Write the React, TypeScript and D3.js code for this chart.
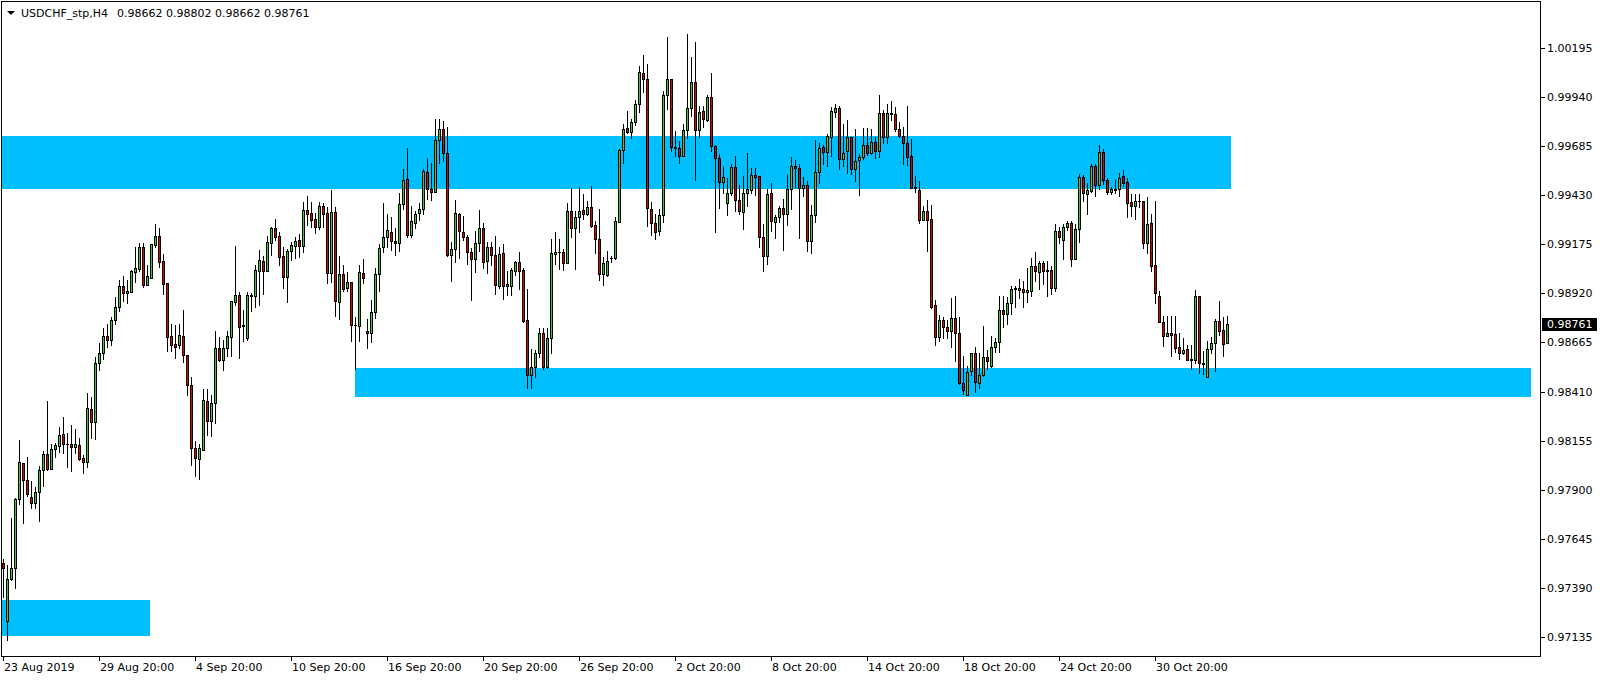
import React from "react";
import * as d3 from "d3";

// [open, high, low, close] per H4 bar, first bar = 23 Aug 2019 20:00
const bars: [number, number, number, number][] = [
  [0.97518, 0.97539, 0.97345, 0.97492], [0.97216, 0.9751, 0.97117, 0.97437], [0.97435, 0.97755, 0.97432, 0.97492],
  [0.97492, 0.97859, 0.97392, 0.97852], [0.97851, 0.98158, 0.97825, 0.98044], [0.98037, 0.98041, 0.97729, 0.97949],
  [0.97949, 0.9807, 0.97869, 0.9788], [0.97861, 0.97946, 0.97807, 0.9783], [0.9783, 0.97913, 0.97807, 0.97887],
  [0.97887, 0.98023, 0.9774, 0.98001], [0.98001, 0.98101, 0.97921, 0.98084], [0.98084, 0.98361, 0.98003, 0.9801],
  [0.9801, 0.98139, 0.98006, 0.98113], [0.98113, 0.98145, 0.98068, 0.98131], [0.98127, 0.98224, 0.98098, 0.98183],
  [0.98188, 0.98278, 0.98089, 0.98136], [0.98138, 0.98195, 0.9802, 0.98136], [0.98136, 0.98236, 0.97999, 0.9812],
  [0.9812, 0.98214, 0.98089, 0.98136], [0.98131, 0.9817, 0.98055, 0.98061], [0.98063, 0.98079, 0.97989, 0.98046],
  [0.98042, 0.98401, 0.9802, 0.98323], [0.98318, 0.98383, 0.98167, 0.9825], [0.98252, 0.9859, 0.98164, 0.9856],
  [0.9856, 0.9866, 0.9852, 0.9861], [0.9861, 0.9874, 0.9858, 0.987], [0.987, 0.9876, 0.9864, 0.9868],
  [0.9868, 0.988, 0.9865, 0.9878], [0.9878, 0.989, 0.9876, 0.9885], [0.9885, 0.9899, 0.9883, 0.9896],
  [0.9896, 0.9901, 0.9888, 0.9892], [0.98921, 0.9899, 0.98872, 0.98933], [0.98929, 0.99042, 0.98926, 0.99037],
  [0.99033, 0.99161, 0.98981, 0.9905], [0.99049, 0.99182, 0.99038, 0.99159], [0.99159, 0.99182, 0.98955, 0.98966],
  [0.98966, 0.99068, 0.98964, 0.99009], [0.99002, 0.99177, 0.99, 0.99175], [0.99173, 0.99281, 0.99163, 0.99217],
  [0.99217, 0.9926, 0.99059, 0.99085], [0.99087, 0.99125, 0.98919, 0.98971], [0.98973, 0.98974, 0.98621, 0.98696],
  [0.98699, 0.9876, 0.98623, 0.98651], [0.98658, 0.98756, 0.98583, 0.98644], [0.98654, 0.9876, 0.98639, 0.98703],
  [0.98699, 0.98834, 0.98566, 0.98599], [0.98601, 0.98602, 0.9839, 0.98442], [0.98443, 0.98486, 0.9803, 0.98116],
  [0.98116, 0.98154, 0.97969, 0.98063], [0.98059, 0.98139, 0.97955, 0.98116], [0.98108, 0.98422, 0.98104, 0.98367],
  [0.98362, 0.98422, 0.98185, 0.98255], [0.98255, 0.98393, 0.98177, 0.98353], [0.98353, 0.98725, 0.98246, 0.98635],
  [0.98635, 0.98694, 0.98571, 0.98576], [0.98576, 0.98679, 0.98523, 0.98635], [0.98635, 0.98725, 0.98597, 0.98699],
  [0.98696, 0.98883, 0.98597, 0.98881], [0.98877, 0.99166, 0.9886, 0.9891], [0.9891, 0.98928, 0.98587, 0.98748],
  [0.98755, 0.98834, 0.98675, 0.98751], [0.98687, 0.98928, 0.9868, 0.9891], [0.98905, 0.98921, 0.98831, 0.98912],
  [0.98904, 0.99068, 0.98852, 0.99042], [0.99039, 0.99146, 0.9886, 0.99094], [0.99089, 0.99115, 0.98917, 0.99039],
  [0.99039, 0.99218, 0.99037, 0.99187], [0.99184, 0.99267, 0.9912, 0.9926], [0.9926, 0.99305, 0.99198, 0.99215],
  [0.99217, 0.99237, 0.99068, 0.99111], [0.99113, 0.99163, 0.9895, 0.99007], [0.99007, 0.99151, 0.98878, 0.99141],
  [0.99142, 0.99189, 0.99094, 0.99172], [0.99168, 0.99215, 0.99106, 0.99193], [0.99198, 0.99229, 0.99108, 0.99168],
  [0.99168, 0.99395, 0.99135, 0.99352], [0.99352, 0.99426, 0.99276, 0.99334], [0.99338, 0.99395, 0.99267, 0.99303],
  [0.99307, 0.99336, 0.99236, 0.99267], [0.99267, 0.99395, 0.99255, 0.99374], [0.99374, 0.99388, 0.99267, 0.99334],
  [0.9934, 0.99371, 0.98973, 0.99028], [0.99028, 0.99457, 0.98981, 0.99343], [0.99343, 0.99369, 0.98805, 0.98883],
  [0.98878, 0.99115, 0.98788, 0.99021], [0.99021, 0.99068, 0.98935, 0.98943], [0.98947, 0.99032, 0.9893, 0.9898],
  [0.9898, 0.98981, 0.98675, 0.98757], [0.98757, 0.988, 0.98528, 0.98755], [0.98753, 0.99068, 0.98675, 0.99032],
  [0.99026, 0.99099, 0.98973, 0.99002], [0.98725, 0.98788, 0.98639, 0.98712], [0.98713, 0.98886, 0.9867, 0.98822],
  [0.98826, 0.99051, 0.98792, 0.9902], [0.9902, 0.99178, 0.9893, 0.99155], [0.99159, 0.9939, 0.99133, 0.99212],
  [0.99212, 0.99332, 0.99159, 0.99249], [0.99238, 0.99316, 0.99143, 0.99192], [0.99193, 0.99259, 0.99121, 0.99181],
  [0.99181, 0.99441, 0.99138, 0.99383], [0.99383, 0.99567, 0.99358, 0.9951], [0.99513, 0.99674, 0.99212, 0.99223],
  [0.99223, 0.99373, 0.99212, 0.99295], [0.99285, 0.99347, 0.99262, 0.99332], [0.99337, 0.99389, 0.993, 0.99359],
  [0.99358, 0.99567, 0.99332, 0.99557], [0.9955, 0.99622, 0.99409, 0.99461], [0.99463, 0.99596, 0.99406, 0.99449],
  [0.99449, 0.99826, 0.99447, 0.99716], [0.99716, 0.99826, 0.99596, 0.99773], [0.99773, 0.99814, 0.99608, 0.99648],
  [0.99648, 0.99785, 0.99115, 0.99119], [0.99119, 0.99186, 0.98987, 0.9915], [0.9915, 0.99406, 0.99081, 0.99337],
  [0.99335, 0.99339, 0.99102, 0.99243], [0.99238, 0.99323, 0.99198, 0.99212], [0.99214, 0.99224, 0.99072, 0.99134],
  [0.99134, 0.99155, 0.98884, 0.99098], [0.99098, 0.99242, 0.99029, 0.99181], [0.99181, 0.99354, 0.99141, 0.99259],
  [0.99259, 0.99285, 0.9905, 0.99082], [0.99088, 0.99186, 0.99025, 0.9916], [0.9916, 0.99186, 0.99067, 0.99119],
  [0.99119, 0.99219, 0.98916, 0.98963], [0.98961, 0.99163, 0.98947, 0.99127], [0.99129, 0.99177, 0.9889, 0.98956],
  [0.98956, 0.99037, 0.98912, 0.98968], [0.98961, 0.99051, 0.98912, 0.99042], [0.99039, 0.99089, 0.99016, 0.99082],
  [0.99082, 0.99137, 0.98943, 0.99039], [0.99042, 0.99051, 0.98774, 0.98777], [0.98781, 0.98943, 0.98428, 0.98494],
  [0.98494, 0.9863, 0.98428, 0.98537], [0.9854, 0.98627, 0.98485, 0.98613], [0.98613, 0.98739, 0.98592, 0.98713],
  [0.98713, 0.98739, 0.98528, 0.98537], [0.98537, 0.98739, 0.98532, 0.98687], [0.98687, 0.99203, 0.98613, 0.99129],
  [0.99127, 0.99241, 0.99073, 0.99134], [0.99134, 0.99203, 0.99047, 0.99134], [0.99134, 0.99149, 0.99042, 0.9908],
  [0.9908, 0.99392, 0.9908, 0.99348], [0.99348, 0.99466, 0.99215, 0.99262], [0.99262, 0.99348, 0.99049, 0.99315],
  [0.99315, 0.99475, 0.99241, 0.99348], [0.99354, 0.99437, 0.99305, 0.99331], [0.99331, 0.994, 0.99328, 0.99369],
  [0.99369, 0.99478, 0.99267, 0.99272], [0.99276, 0.99296, 0.99132, 0.99201], [0.99201, 0.99359, 0.9899, 0.9902],
  [0.9902, 0.99111, 0.98964, 0.99077], [0.99014, 0.99141, 0.99011, 0.99089], [0.99103, 0.99116, 0.99085, 0.99104],
  [0.99103, 0.99315, 0.99099, 0.99296], [0.99293, 0.9967, 0.9929, 0.99663], [0.99663, 0.99801, 0.996, 0.99773],
  [0.99779, 0.99869, 0.99756, 0.99761], [0.99761, 0.99825, 0.9973, 0.9981], [0.9981, 0.99926, 0.99796, 0.99905],
  [0.99903, 1.00102, 0.99865, 1.00069], [1.00064, 1.00159, 0.99969, 1.00033], [1.00033, 1.00111, 0.99268, 0.99364],
  [0.99358, 0.99395, 0.99222, 0.99284], [0.99286, 0.99334, 0.99203, 0.99239], [0.99244, 0.9936, 0.99225, 0.99327],
  [0.99327, 0.99974, 0.99289, 0.99952], [0.9995, 1.00251, 0.99879, 1.00033], [1.00033, 1.00033, 0.99658, 0.9968],
  [0.9968, 0.99765, 0.99632, 0.99678], [0.99673, 0.99713, 0.996, 0.99632], [0.99632, 0.99801, 0.99632, 0.99768],
  [0.99768, 1.00268, 0.9973, 0.99883], [0.99883, 1.00147, 0.99844, 1.00017], [1.00017, 1.00227, 0.99511, 0.99767],
  [0.99767, 0.99896, 0.99735, 0.99862], [0.99869, 0.99896, 0.99787, 0.99825], [0.99822, 0.99952, 0.99817, 0.99941],
  [0.99941, 1.00064, 0.99658, 0.99685], [0.99685, 0.99689, 0.99237, 0.99623], [0.99623, 0.99644, 0.99364, 0.99497],
  [0.99497, 0.99583, 0.99441, 0.99524], [0.9939, 0.99519, 0.99325, 0.99441], [0.99441, 0.99592, 0.99433, 0.99576],
  [0.99576, 0.99635, 0.99346, 0.99403], [0.99407, 0.99485, 0.99332, 0.99346], [0.99343, 0.99528, 0.99254, 0.99441],
  [0.99441, 0.9965, 0.99375, 0.99463], [0.99455, 0.99572, 0.99444, 0.99534], [0.99534, 0.99572, 0.99432, 0.99524],
  [0.99529, 0.99532, 0.99159, 0.99211], [0.99214, 0.99282, 0.99039, 0.99112], [0.99112, 0.99462, 0.99072, 0.99436],
  [0.99441, 0.99494, 0.99245, 0.99294], [0.9929, 0.99328, 0.99206, 0.99318], [0.99316, 0.99375, 0.99292, 0.99365],
  [0.99363, 0.99411, 0.99148, 0.9933], [0.9933, 0.99541, 0.99273, 0.99463], [0.99463, 0.99628, 0.99361, 0.99581],
  [0.99581, 0.99614, 0.99475, 0.99572], [0.99572, 0.99593, 0.99206, 0.99467], [0.99467, 0.99524, 0.99424, 0.99482],
  [0.99482, 0.99505, 0.99138, 0.9919], [0.9919, 0.99379, 0.99128, 0.99327], [0.99327, 0.99716, 0.99289, 0.9955],
  [0.9955, 0.99702, 0.99496, 0.99674], [0.9968, 0.9969, 0.99591, 0.99657], [0.99657, 0.99749, 0.99583, 0.99738],
  [0.99735, 0.99891, 0.99635, 0.99866], [0.99865, 0.99903, 0.99834, 0.99882], [0.99882, 0.99894, 0.99567, 0.99617],
  [0.99617, 0.99802, 0.99583, 0.99648], [0.99659, 0.99821, 0.99548, 0.99731], [0.99731, 0.99731, 0.99539, 0.99564],
  [0.99564, 0.99773, 0.99505, 0.99609], [0.99612, 0.99645, 0.99429, 0.99628], [0.99628, 0.99778, 0.99617, 0.9969],
  [0.9969, 0.99778, 0.99638, 0.99648], [0.99648, 0.99773, 0.99645, 0.99705], [0.99705, 0.99735, 0.99622, 0.99662],
  [0.99662, 0.99951, 0.99631, 0.99856], [0.99856, 0.99873, 0.997, 0.99735], [0.99735, 0.99904, 0.997, 0.99856],
  [0.99856, 0.9992, 0.99821, 0.99854], [0.99851, 0.99887, 0.99766, 0.99773], [0.99773, 0.99813, 0.99735, 0.9974],
  [0.9974, 0.99783, 0.99593, 0.997], [0.997, 0.99894, 0.99588, 0.99631], [0.99636, 0.99721, 0.9947, 0.9947],
  [0.99472, 0.99531, 0.99449, 0.9947], [0.99458, 0.99506, 0.99288, 0.99302], [0.99302, 0.99375, 0.99302, 0.99349],
  [0.99349, 0.99406, 0.99138, 0.99299], [0.99306, 0.9938, 0.98844, 0.98852], [0.98861, 0.98887, 0.98654, 0.98693],
  [0.98693, 0.98809, 0.98671, 0.98783], [0.98783, 0.98795, 0.98688, 0.98743], [0.98745, 0.98783, 0.98688, 0.98723],
  [0.98723, 0.98896, 0.9864, 0.98792], [0.98792, 0.98908, 0.98567, 0.98714], [0.98714, 0.98797, 0.98451, 0.98455],
  [0.98455, 0.98597, 0.98399, 0.98417], [0.98391, 0.98541, 0.98391, 0.98512], [0.98515, 0.9861, 0.98498, 0.9861],
  [0.9861, 0.9864, 0.98408, 0.98458], [0.98455, 0.9861, 0.98429, 0.98494], [0.98494, 0.98752, 0.98489, 0.9859],
  [0.9859, 0.98628, 0.98527, 0.98567], [0.98541, 0.98697, 0.98538, 0.98641], [0.98641, 0.98688, 0.98615, 0.98667],
  [0.98667, 0.98907, 0.98615, 0.98835], [0.98835, 0.98904, 0.98748, 0.98812], [0.98812, 0.98899, 0.9876, 0.98869],
  [0.98869, 0.98959, 0.98812, 0.98942], [0.98942, 0.98959, 0.98852, 0.98947], [0.98939, 0.98996, 0.98895, 0.98947],
  [0.98942, 0.98985, 0.98849, 0.98925], [0.98925, 0.99053, 0.98873, 0.98939], [0.98935, 0.99106, 0.98904, 0.99063],
  [0.99063, 0.99134, 0.98982, 0.99034], [0.99029, 0.99089, 0.98944, 0.99077], [0.99077, 0.99086, 0.9897, 0.99039],
  [0.99041, 0.99086, 0.98904, 0.99037], [0.99041, 0.99063, 0.98916, 0.98947], [0.98947, 0.99279, 0.9893, 0.99245],
  [0.99245, 0.99267, 0.99181, 0.99215], [0.99198, 0.99279, 0.99098, 0.99267], [0.99267, 0.99298, 0.9925, 0.99285],
  [0.99285, 0.99298, 0.9906, 0.99098], [0.99098, 0.99279, 0.99098, 0.99255], [0.99255, 0.99541, 0.99189, 0.99523],
  [0.99523, 0.99536, 0.99402, 0.9944], [0.99437, 0.99492, 0.99333, 0.99458], [0.99454, 0.99591, 0.99449, 0.99582],
  [0.99582, 0.99591, 0.99428, 0.99484], [0.99484, 0.99691, 0.99461, 0.99653], [0.99653, 0.9967, 0.99487, 0.99509],
  [0.99509, 0.99518, 0.99435, 0.99445], [0.99445, 0.99471, 0.99435, 0.99461], [0.99461, 0.99509, 0.9944, 0.99458],
  [0.99461, 0.99545, 0.99428, 0.9952], [0.9953, 0.9956, 0.9948, 0.99495], [0.99497, 0.9952, 0.99319, 0.99391],
  [0.99395, 0.99436, 0.99322, 0.99376], [0.99376, 0.99436, 0.99307, 0.994], [0.99398, 0.99436, 0.99371, 0.994],
  [0.994, 0.99402, 0.99158, 0.99184], [0.9918, 0.99419, 0.99132, 0.99279], [0.99284, 0.99331, 0.99038, 0.99064],
  [0.99068, 0.994, 0.98869, 0.98921], [0.98904, 0.98933, 0.98774, 0.98774], [0.98774, 0.98803, 0.98649, 0.98699],
  [0.98701, 0.98803, 0.98699, 0.98713], [0.98713, 0.98803, 0.98597, 0.98705], [0.98708, 0.98803, 0.98615, 0.98639],
  [0.98641, 0.98713, 0.9858, 0.98609], [0.98609, 0.98687, 0.98606, 0.98627], [0.9863, 0.98653, 0.98575, 0.98575],
  [0.98577, 0.98653, 0.98526, 0.98573], [0.98573, 0.98938, 0.98561, 0.98904], [0.98904, 0.98907, 0.98509, 0.98556],
  [0.98559, 0.98622, 0.98499, 0.98554], [0.98488, 0.98673, 0.98488, 0.98632], [0.9863, 0.98691, 0.98609, 0.98661],
  [0.98661, 0.98788, 0.98519, 0.98777], [0.98777, 0.98881, 0.98706, 0.98727], [0.98731, 0.988, 0.98597, 0.98658],
  [0.98662, 0.98802, 0.98662, 0.98761],
];

const priceTicks = [1.00195, 0.9994, 0.99685, 0.9943, 0.99175, 0.9892, 0.98665, 0.9841, 0.98155, 0.979, 0.97645, 0.9739, 0.97135];

// bar index -> label
const timeLabels: [number, string][] = [
  [0, "23 Aug 2019"], [24, "29 Aug 20:00"], [48, "4 Sep 20:00"], [72, "10 Sep 20:00"],
  [96, "16 Sep 20:00"], [120, "20 Sep 20:00"], [144, "26 Sep 20:00"], [168, "2 Oct 20:00"],
  [192, "8 Oct 20:00"], [216, "14 Oct 20:00"], [240, "18 Oct 20:00"], [264, "24 Oct 20:00"],
  [288, "30 Oct 20:00"],
];

// rectangles: [fromBar, toBar, topPrice, bottomPrice]
const zones: [number, number, number, number][] = [
  [-1, 307, 0.99738, 0.99463],
  [88, 382, 0.98533, 0.98382],
  [-1, 36.75, 0.97327, 0.9714],
];

const symbol = "USDCHF_stp,H4";
const lastPrice = 0.98761;

const W = 1604;
const H = 680;
const FONT = "'DejaVu Sans', Verdana, sans-serif";
const BULL = "#2ed12e";
const BEAR = "#e00000";

export default function App() {
  const x = d3.scaleLinear().domain([0, 1]).range([3, 7]);
  const y = d3.scaleLinear().domain([0.97135, 1.00195]).range([637, 48]);
  const frameRight = 1540;
  const frameBottom = 656;
  const last = bars[bars.length - 1];
  const header = last.map((v) => v.toFixed(5)).join(" ");

  return (
    <svg
      width={W}
      height={H}
      style={{ position: "absolute", left: 0, top: 0, display: "block", background: "#fff" }}
      shapeRendering="crispEdges"
    >
      <rect x={0} y={0} width={W} height={H} fill="#fff" />

      {zones.map(([a, b, top, bot], i) => {
        const x0 = Math.max(2, x(a));
        const x1 = Math.min(frameRight, x(b));
        const y0 = Math.round(y(top));
        const y1 = Math.round(y(bot));
        return <rect key={"z" + i} x={x0} y={y0} width={x1 - x0} height={y1 - y0} fill="#00bfff" />;
      })}

      {bars.map(([o, h, l, c], i) => {
        const px = Math.round(x(i));
        const yo = Math.round(y(o));
        const yc = Math.round(y(c));
        const yh = Math.round(y(h));
        const yl = Math.round(y(l));
        const top = Math.min(yo, yc);
        const bot = Math.max(yo, yc);
        const col = c >= o ? BULL : BEAR;
        return (
          <g key={i}>
            <rect x={px} y={yh} width={1} height={yl - yh + 1} fill="#000" />
            <rect x={px - 1} y={top} width={3} height={bot - top + 1} fill="#000" />
            {bot - top >= 2 && <rect x={px} y={top + 1} width={1} height={bot - top - 1} fill={col} />}
          </g>
        );
      })}

      {/* frame */}
      <rect x={1.5} y={1.5} width={frameRight - 1} height={frameBottom - 1} fill="none" stroke="#000" />

      {/* price axis */}
      {priceTicks.map((p) => {
        const yy = Math.round(y(p));
        return (
          <g key={"p" + p}>
            <rect x={frameRight + 1} y={yy} width={4} height={1} fill="#000" />
            <text x={1547} y={yy + 4} fontFamily={FONT} fontSize={11} fill="#000">
              {p.toFixed(5)}
            </text>
          </g>
        );
      })}
      <rect x={1542} y={Math.round(y(lastPrice)) - 6} width={55} height={13} fill="#000" />
      <text x={1547} y={Math.round(y(lastPrice)) + 4} fontFamily={FONT} fontSize={11} fill="#fff">
        {lastPrice.toFixed(5)}
      </text>

      {/* time axis */}
      {timeLabels.map(([idx, label]) => {
        const px = Math.round(x(idx));
        return (
          <g key={"t" + idx}>
            <rect x={px} y={frameBottom + 1} width={1} height={4} fill="#000" />
            <text x={px + 1} y={671} fontFamily={FONT} fontSize={11} fill="#000">
              {label}
            </text>
          </g>
        );
      })}

      {/* header */}
      <polygon points="7,11 15,11 11,15" fill="#000" shapeRendering="auto" />
      <text x={21} y={17} fontFamily={FONT} fontSize={11} fill="#000">
        {symbol}
      </text>
      <text x={117} y={17} fontFamily={FONT} fontSize={11} fill="#000">
        {header}
      </text>
    </svg>
  );
}
